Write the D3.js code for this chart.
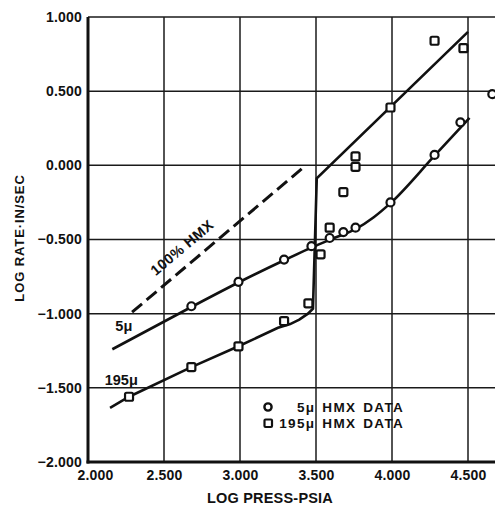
<!DOCTYPE html>
<html><head><meta charset="utf-8">
<script src="https://cdn.jsdelivr.net/npm/d3@7"></script>
<style>
body{margin:0;background:#fff}
text{font-family:"Liberation Sans",Arial,sans-serif;font-weight:bold;fill:#111}
</style>
</head><body><svg id="c" width="495" height="509"></svg>
<script>
// ---- data ----
const xTicks = [2.0, 2.5, 3.0, 3.5, 4.0, 4.5];
const xTickLabels = ["2.000", "2.500", "3.000", "3.500", "4.000", "4.500"];
const yTicks = [-2.0, -1.5, -1.0, -0.5, 0.0, 0.5, 1.0];
const yTickLabels = ["\u22122.000", "\u22121.500", "\u22121.000", "\u22120.500", "0.000", "0.500", "1.000"];

// 5 micron HMX data (circles): [log press, log rate]
const data5 = [[2.68,-0.95],[2.99,-0.785],[3.29,-0.635],[3.47,-0.545],[3.59,-0.49],[3.68,-0.45],[3.76,-0.42],[3.99,-0.25],[4.28,0.07],[4.45,0.29],[4.66,0.48]];
// 195 micron HMX data (squares)
const data195 = [[2.27,-1.56],[2.68,-1.36],[2.99,-1.22],[3.29,-1.05],[3.45,-0.93],[3.53,-0.60],[3.59,-0.42],[3.68,-0.18],[3.76,-0.01],[3.76,0.06],[3.99,0.39],[4.28,0.84],[4.47,0.79]];
// fitted curves
const line5 = [[2.16,-1.24],[2.68,-0.955],[2.99,-0.79],[3.28,-0.645],[3.47,-0.555],[3.62,-0.49],[3.76,-0.43],[3.88,-0.35],[3.99,-0.255],[4.28,0.065],[4.51,0.32]];
const line195 = [[2.145,-1.635],[2.27,-1.56],[2.68,-1.36],[2.99,-1.22],[3.25,-1.095],[3.33,-1.07],[3.39,-1.04],[3.447,-1.0],[3.48,-0.966],[3.505,-0.088],[4.5,0.9]];
const line100 = [[2.29,-0.99],[3.41,-0.02]];

// ---- layout ----
const svg = d3.select("#c");
const x = d3.scaleLinear().domain([2.0, 4.5]).range([88, 468]);
const y = d3.scaleLinear().domain([-2.0, 1.0]).range([462, 17]);
const xMax = x.invert(495);
const FONT = "'Liberation Sans',Arial,sans-serif";

// grid
const g = svg.append("g");
g.selectAll("line.vg").data(xTicks.slice(1)).join("line")
  .attr("x1", d => x(d)).attr("x2", d => x(d))
  .attr("y1", y(1.0)).attr("y2", y(-2.0))
  .attr("stroke", "#1a1a1a").attr("stroke-width", 1.5);
g.selectAll("line.hg").data(yTicks.slice(1)).join("line")
  .attr("x1", x(2.0)).attr("x2", x(xMax))
  .attr("y1", d => y(d)).attr("y2", d => y(d))
  .attr("stroke", "#1a1a1a").attr("stroke-width", 1.5);

// axes
const yAxis = d3.axisLeft(y).tickValues(yTicks).tickFormat((d,i) => yTickLabels[i]).tickSize(0).tickPadding(6);
const ya = svg.append("g").attr("transform", `translate(${x(2.0)},0)`).call(yAxis);
ya.select(".domain").remove();
ya.selectAll("text").attr("font-size", 14).attr("letter-spacing", 0.2).style("font-family", FONT).style("font-weight", "bold").attr("fill", "#111");

const xAxis = d3.axisBottom(x).tickValues(xTicks).tickFormat((d,i) => xTickLabels[i]).tickSize(0).tickPadding(8);
const xa = svg.append("g").attr("transform", `translate(0,${y(-2.0)})`).call(xAxis);
xa.select(".domain").remove();
xa.selectAll("text").attr("font-size", 14).attr("letter-spacing", 0.2).style("font-family", FONT).style("font-weight", "bold").attr("fill", "#111")
  .attr("dx", (d,i) => i === 0 ? 7 : 0);

svg.append("line").attr("x1", x(2.0)).attr("x2", x(2.0)).attr("y1", y(1.0)).attr("y2", y(-2.0) + 1.5)
  .attr("stroke", "#111").attr("stroke-width", 3);
svg.append("line").attr("x1", x(2.0) - 1.5).attr("x2", x(xMax)).attr("y1", y(-2.0)).attr("y2", y(-2.0))
  .attr("stroke", "#111").attr("stroke-width", 3);

// axis titles
svg.append("text").attr("x", 270).attr("y", 503).attr("text-anchor", "middle")
  .attr("font-size", 14.5).attr("letter-spacing", 0.2).text("LOG PRESS-PSIA");
svg.append("text").attr("transform", "translate(24,238) rotate(-90)").attr("text-anchor", "middle")
  .attr("font-size", 13).attr("letter-spacing", 0.9).text("LOG RATE\u00B7IN/SEC");

// curves
const lg = d3.line().x(d => x(d[0])).y(d => y(d[1]));
svg.append("path").attr("d", lg(line100)).attr("fill", "none").attr("stroke", "#111")
  .attr("stroke-width", 3).attr("stroke-dasharray", "13,6");
svg.append("path").attr("d", lg.curve(d3.curveMonotoneX)(line5)).attr("fill", "none").attr("stroke", "#111").attr("stroke-width", 2.6);
svg.append("path").attr("d", d3.line().x(d => x(d[0])).y(d => y(d[1]))(line195)).attr("fill", "none").attr("stroke", "#111").attr("stroke-width", 2.6);

// markers
svg.selectAll("rect.s").data(data195).join("rect")
  .attr("x", d => x(d[0]) - 4).attr("y", d => y(d[1]) - 4).attr("width", 8).attr("height", 8).attr("rx", 1.5)
  .attr("fill", "#fff").attr("stroke", "#111").attr("stroke-width", 2.2);
svg.selectAll("circle.c").data(data5).join("circle")
  .attr("cx", d => x(d[0])).attr("cy", d => y(d[1])).attr("r", 4)
  .attr("fill", "#fff").attr("stroke", "#111").attr("stroke-width", 2.2);

// curve labels
svg.append("text").attr("transform", `translate(${x(2.64)},${y(-0.58)}) rotate(-40)`).attr("text-anchor", "middle")
  .attr("font-size", 14.5).attr("letter-spacing", 0.5).text("100% HMX");
svg.append("text").attr("x", x(2.18)).attr("y", y(-1.12)).attr("font-size", 14.5).text("5\u03BC");
svg.append("text").attr("x", x(2.11)).attr("y", y(-1.48)).attr("font-size", 14.5).text("195\u03BC");

// legend
const legendLabels = ["5\u03BC HMX DATA", "195\u03BC HMX DATA"];
const leg = svg.append("g");
leg.append("circle").attr("cx", 268).attr("cy", 407).attr("r", 3.6).attr("fill", "#fff").attr("stroke", "#111").attr("stroke-width", 2.4);
leg.append("rect").attr("x", 264.5).attr("y", 419.5).attr("width", 7.5).attr("height", 7.5).attr("rx", 1).attr("fill", "#fff").attr("stroke", "#111").attr("stroke-width", 2.2);
leg.selectAll("text").data(legendLabels).join("text")
  .attr("x", 404).attr("y", (d,i) => 412 + i * 16).attr("text-anchor", "end")
  .attr("font-size", 13.5).attr("letter-spacing", 1.3).attr("word-spacing", 2).text(d => d);
</script>
</body></html>
